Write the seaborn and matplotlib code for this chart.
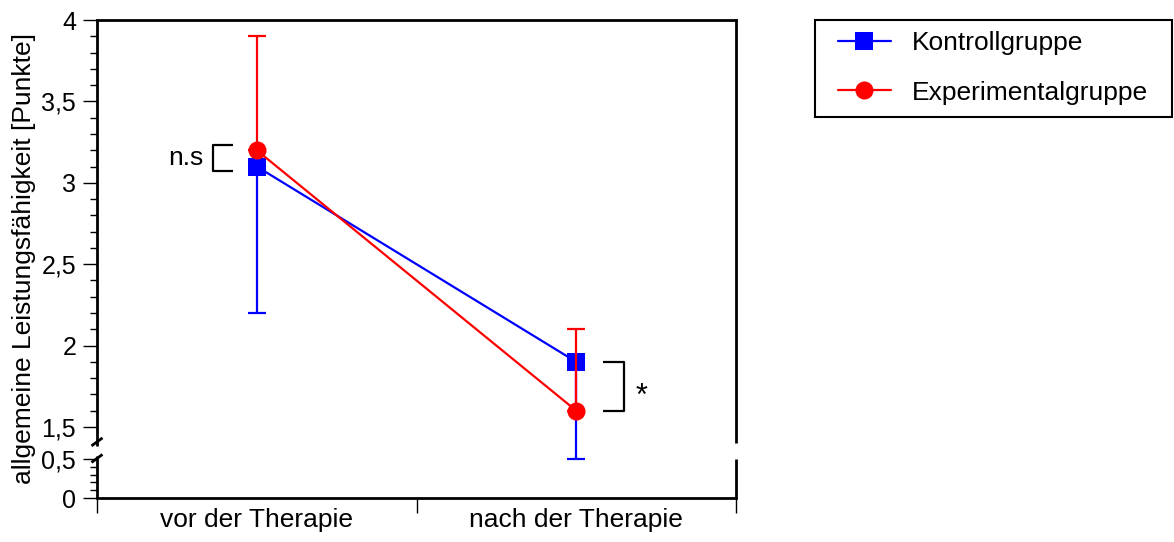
import numpy as np
import pandas as pd
import matplotlib
matplotlib.use('Agg')
import matplotlib.pyplot as plt
import seaborn as sns
from matplotlib.ticker import FixedLocator, FixedFormatter
from matplotlib.patches import Rectangle

# ---- data ----
categories = ['vor der Therapie', 'nach der Therapie']
groups = ['Kontrollgruppe', 'Experimentalgruppe']
ctrl_mean = [3.1, 1.9]
ctrl_low = [2.2, 0.5]      # lower end of the control error bars
exp_mean = [3.2, 1.6]
exp_high = [3.9, 2.1]      # upper end of the experimental error bars
ytick_vals = [0, 0.5, 1.5, 2, 2.5, 3, 3.5, 4]
ytick_labels = ['0', '0,5', '1,5', '2', '2,5', '3', '3,5', '4']
yminor_vals = [0.1, 0.2, 0.3, 0.4, 1.6, 1.7, 1.8, 1.9, 2.1, 2.2, 2.3, 2.4,
               2.6, 2.7, 2.8, 2.9, 3.1, 3.2, 3.3, 3.4, 3.6, 3.7, 3.8, 3.9]
ylabel = 'allgemeine Leistungsfähigkeit [Punkte]'
sig_labels = ['n.s', '*']

sns.set_style('white')
plt.rcParams['font.family'] = ['Liberation Sans', 'DejaVu Sans']
plt.rcParams['text.color'] = 'black'
plt.rcParams['axes.labelcolor'] = 'black'
plt.rcParams['xtick.color'] = 'black'
plt.rcParams['ytick.color'] = 'black'

FS = 19
FS_TICK = 18
BLUE = '#0000ff'
RED = '#ff0000'

fig = plt.figure(figsize=(11.74, 5.42), dpi=100)
ax = fig.add_axes([97 / 1174, 1 - 498 / 542, 639 / 1174, 478 / 542])

# broken (piecewise linear) y scale
S_LO, S_MID, S_HI = 78.0, 32.0, 162.8


def fwd(v):
    v = np.asarray(v, dtype=float)
    return np.where(v <= 0.5, v * S_LO,
                    np.where(v < 1.5, 0.5 * S_LO + (v - 0.5) * S_MID,
                             0.5 * S_LO + S_MID + (v - 1.5) * S_HI))


def inv(d):
    d = np.asarray(d, dtype=float)
    a = 0.5 * S_LO
    b = a + S_MID
    return np.where(d <= a, d / S_LO,
                    np.where(d < b, 0.5 + (d - a) / S_MID,
                             1.5 + (d - b) / S_HI))


ax.set_yscale('function', functions=(fwd, inv))

xpos = np.arange(len(categories))
df = pd.DataFrame({
    'Zeitpunkt': np.tile(xpos, 2),
    'Wert': ctrl_mean + exp_mean,
    'Gruppe': np.repeat(groups, len(categories)),
})

ctrl_err = [np.array(ctrl_mean) - np.array(ctrl_low), np.zeros(len(ctrl_mean))]
exp_err = [np.zeros(len(exp_mean)), np.array(exp_high) - np.array(exp_mean)]

ax.errorbar(xpos, ctrl_mean, yerr=ctrl_err, fmt='none', ecolor=BLUE,
            elinewidth=1.6, capsize=6.3, capthick=1.6, zorder=1)
sns.lineplot(data=df[df['Gruppe'] == groups[0]], x='Zeitpunkt', y='Wert',
             color=BLUE, marker='s', markersize=12.5, markeredgewidth=0,
             linewidth=1.6, label=groups[0], ax=ax, zorder=2, errorbar=None,
             sort=False)
ax.errorbar(xpos, exp_mean, yerr=exp_err, fmt='none', ecolor=RED,
            elinewidth=1.6, capsize=6.3, capthick=1.6, zorder=3)
sns.lineplot(data=df[df['Gruppe'] == groups[1]], x='Zeitpunkt', y='Wert',
             color=RED, marker='o', markersize=13, markeredgewidth=0,
             linewidth=1.6, label=groups[1], ax=ax, zorder=4, errorbar=None,
             sort=False)

ax.set_xlim(-0.5, len(categories) - 0.5)
ax.set_ylim(0, 4)

# y ticks
ax.yaxis.set_major_locator(FixedLocator(ytick_vals))
ax.yaxis.set_major_formatter(FixedFormatter(ytick_labels))
ax.yaxis.set_minor_locator(FixedLocator(yminor_vals))
ax.tick_params(axis='y', which='major', direction='out', length=10, width=1,
               labelsize=FS_TICK, pad=5, left=True)
ax.tick_params(axis='y', which='minor', direction='out', length=5, width=1,
               left=True)

# x ticks
ax.set_xticks(xpos)
ax.set_xticklabels(categories)
ax.set_xticks(np.arange(len(categories) + 1) - 0.5, minor=True)
ax.tick_params(axis='x', which='major', length=0, labelsize=FS, pad=7)
ax.tick_params(axis='x', which='minor', direction='out', length=11, width=1,
               bottom=True)

ax.set_xlabel('')
ax.set_ylabel(ylabel, fontsize=FS, labelpad=4)

# spines
for s in ['top', 'bottom']:
    ax.spines[s].set_color('black')
    ax.spines[s].set_linewidth(2)
ax.spines['left'].set_visible(False)
ax.spines['right'].set_visible(False)
sp = dict(transform=ax.transAxes, color='black', lw=2, clip_on=False,
          solid_capstyle='butt', zorder=5)
ax.plot([0, 0], [0, 0.0879], **sp)
ax.plot([0, 0], [0.1088, 1.002], **sp)
ax.plot([1, 1], [0, 0.0816], **sp)
ax.plot([1, 1], [0.115, 1.002], **sp)
# break marks on left axis
for yc in [0.1174, 0.0828]:
    ax.plot([-0.0086, 0.0086], [yc - 0.0084, yc + 0.0084], **sp)

# significance brackets
bk = dict(color='black', lw=1.6, clip_on=False, solid_capstyle='butt')
ax.plot([-0.074, -0.137, -0.137, -0.074],
        [exp_mean[0] + 0.03, exp_mean[0] + 0.03, ctrl_mean[0] - 0.03, ctrl_mean[0] - 0.03], **bk)
ax.text(-0.168, (exp_mean[0] + ctrl_mean[0]) / 2, sig_labels[0], ha='right',
        va='center', fontsize=FS)
ax.plot([1.084, 1.149, 1.149, 1.084],
        [ctrl_mean[1], ctrl_mean[1], exp_mean[1], exp_mean[1]], **bk)
ax.text(1.185, (ctrl_mean[1] + exp_mean[1]) / 2 - 0.066, sig_labels[1], ha='left',
        va='center', fontsize=FS + 3)

# legend (frameless) + separate frame box
h, l = ax.get_legend_handles_labels()
if ax.get_legend() is not None:
    ax.get_legend().remove()
leg = fig.legend(h, l, loc='upper left', bbox_to_anchor=(838 / 1174, 1 - 31 / 542),
                 bbox_transform=fig.transFigure, frameon=False, fontsize=FS,
                 handlelength=2.0, handletextpad=0.8, labelspacing=0.97,
                 borderpad=0, borderaxespad=0)
fig.add_artist(Rectangle((815 / 1174, 1 - 117 / 542), 357 / 1174, 97 / 542,
                         transform=fig.transFigure, fill=False,
                         edgecolor='black', linewidth=1.5))

fig.savefig('out.png', dpi=100)
